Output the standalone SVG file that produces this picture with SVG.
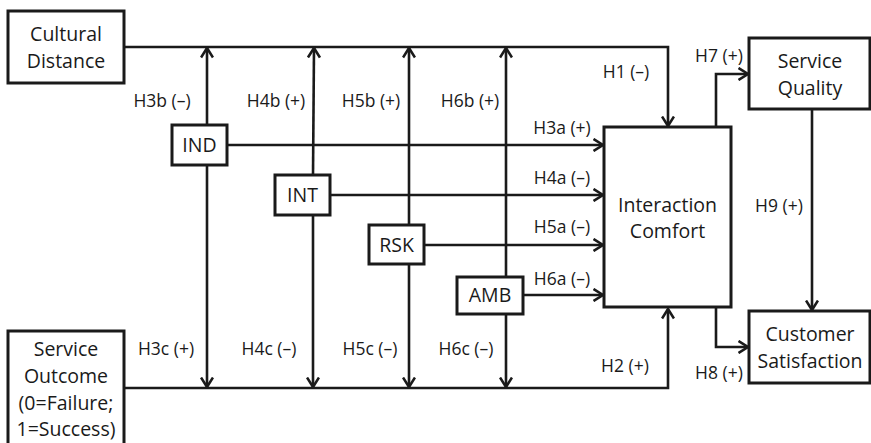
<svg xmlns="http://www.w3.org/2000/svg" width="871" height="443" viewBox="0 0 871 443">
<style>
.box{fill:#fff;stroke:#1a1a1a;stroke-width:3}
.n{font-family:"Open Sans","Noto Sans",sans-serif;font-size:19.5px;fill:#1a1a1a;text-anchor:middle}
.l{font-family:"Open Sans","Noto Sans",sans-serif;font-size:17.5px;fill:#1a1a1a}
.c{fill:none;stroke:#1a1a1a;stroke-width:2.6}
.a{marker-end:url(#arr)}
</style>
<defs>
<marker id="arr" viewBox="0 0 12 14" refX="10.5" refY="7" markerWidth="12" markerHeight="14" markerUnits="userSpaceOnUse" orient="auto">
<path d="M1,1 L10.5,7 L1,13" fill="none" stroke="#1a1a1a" stroke-width="2.6"/>
</marker>
</defs>
<rect width="871" height="443" fill="#fff"/>
<g id="connectors">
<path class="c a" d="M124,47 H668 V126"/>
<path class="c a" d="M124,388 H668 V309"/>
<path class="c a" d="M207,125 V48"/>
<path class="c a" d="M207,165 V387"/>
<path class="c a" d="M313,175 L314,48"/>
<path class="c a" d="M313,215 V387"/>
<path class="c a" d="M409,225 V48"/>
<path class="c a" d="M409,264 V387"/>
<path class="c a" d="M506,277 V48"/>
<path class="c a" d="M506,314 V387"/>
<path class="c a" d="M227,145 H603"/>
<path class="c a" d="M330,195 H603"/>
<path class="c a" d="M424,245 H603"/>
<path class="c a" d="M523,295 H603"/>
<path class="c a" d="M716,127 V74 H748"/>
<path class="c a" d="M716,307 V347 H748"/>
<path class="c a" d="M812,109 V310"/>
</g>
<g id="labels">
<text class="l" x="162" y="107" text-anchor="middle">H3b (–)</text>
<text class="l" x="276" y="107" text-anchor="middle">H4b (+)</text>
<text class="l" x="371" y="107" text-anchor="middle">H5b (+)</text>
<text class="l" x="470" y="107" text-anchor="middle">H6b (+)</text>
<text class="l" x="626" y="78" text-anchor="middle">H1 (–)</text>
<text class="l" x="719" y="62" text-anchor="middle">H7 (+)</text>
<text class="l" x="562" y="134" text-anchor="middle">H3a (+)</text>
<text class="l" x="562" y="184" text-anchor="middle">H4a (–)</text>
<text class="l" x="562" y="233" text-anchor="middle">H5a (–)</text>
<text class="l" x="562" y="285" text-anchor="middle">H6a (–)</text>
<text class="l" x="779" y="212" text-anchor="middle">H9 (+)</text>
<text class="l" x="166" y="355" text-anchor="middle">H3c (+)</text>
<text class="l" x="269" y="355" text-anchor="middle">H4c (–)</text>
<text class="l" x="370" y="355" text-anchor="middle">H5c (–)</text>
<text class="l" x="466" y="355" text-anchor="middle">H6c (–)</text>
<text class="l" x="625" y="372" text-anchor="middle">H2 (+)</text>
<text class="l" x="719" y="379" text-anchor="middle">H8 (+)</text>
</g>
<g id="cultural-distance">
<rect class="box" x="8" y="11" width="116" height="72"/>
<text class="n" x="66" y="41">Cultural</text>
<text class="n" x="66" y="68">Distance</text>
</g>
<g id="service-outcome">
<rect class="box" x="8" y="331" width="116" height="120"/>
<text class="n" x="66" y="356">Service</text>
<text class="n" x="66" y="383">Outcome</text>
<text class="n" x="66" y="410">(0=Failure;</text>
<text class="n" x="66" y="436">1=Success)</text>
</g>
<g id="ind">
<rect class="box" x="172" y="125" width="55" height="40"/>
<text class="n" x="199.5" y="152">IND</text>
</g>
<g id="int">
<rect class="box" x="275" y="175" width="55" height="40"/>
<text class="n" x="302.5" y="202">INT</text>
</g>
<g id="rsk">
<rect class="box" x="369" y="225" width="55" height="39"/>
<text class="n" x="396.5" y="252">RSK</text>
</g>
<g id="amb">
<rect class="box" x="457" y="277" width="66" height="37"/>
<text class="n" x="490" y="302">AMB</text>
</g>
<g id="interaction-comfort">
<rect class="box" x="604" y="127" width="127" height="180"/>
<text class="n" x="667.5" y="212">Interaction</text>
<text class="n" x="667.5" y="238">Comfort</text>
</g>
<g id="service-quality">
<rect class="box" x="749" y="38" width="121" height="71"/>
<text class="n" x="810" y="68">Service</text>
<text class="n" x="810" y="95">Quality</text>
</g>
<g id="customer-satisfaction">
<rect class="box" x="749" y="311" width="121" height="72"/>
<text class="n" x="810" y="341">Customer</text>
<text class="n" x="810" y="368">Satisfaction</text>
</g>
</svg>
